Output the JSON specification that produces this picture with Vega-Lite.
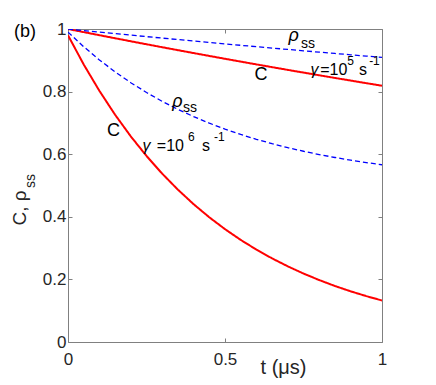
{
  "$schema": "https://vega.github.io/schema/vega-lite/v6.json",
  "width": 314,
  "height": 313,
  "autosize": "none",
  "padding": {"left": 68, "top": 29, "right": 54, "bottom": 43},
  "background": "white",
  "config": {
    "view": {"stroke": null},
    "axis": {
      "grid": false,
      "domainColor": "#808080",
      "tickColor": "#808080",
      "labelColor": "#262626",
      "titleColor": "#262626",
      "labelFont": "Liberation Sans",
      "titleFont": "Liberation Sans",
      "labelFontSize": 17,
      "titleFontSize": 19,
      "titleFontWeight": "normal",
      "tickSize": -4,
      "labelPadding": 6,
      "format": "~g"
    },
    "text": {"font": "Liberation Sans", "color": "#000000"}
  },
  "datasets": {
    "curves": [
      {"t": 0, "value": 1, "quantity": "C", "gamma": "1e5"},
      {"t": 0.05, "value": 0.99005, "quantity": "C", "gamma": "1e5"},
      {"t": 0.1, "value": 0.9802, "quantity": "C", "gamma": "1e5"},
      {"t": 0.15, "value": 0.97045, "quantity": "C", "gamma": "1e5"},
      {"t": 0.2, "value": 0.96079, "quantity": "C", "gamma": "1e5"},
      {"t": 0.25, "value": 0.95123, "quantity": "C", "gamma": "1e5"},
      {"t": 0.3, "value": 0.94176, "quantity": "C", "gamma": "1e5"},
      {"t": 0.35, "value": 0.93239, "quantity": "C", "gamma": "1e5"},
      {"t": 0.4, "value": 0.92312, "quantity": "C", "gamma": "1e5"},
      {"t": 0.45, "value": 0.91393, "quantity": "C", "gamma": "1e5"},
      {"t": 0.5, "value": 0.90484, "quantity": "C", "gamma": "1e5"},
      {"t": 0.55, "value": 0.89583, "quantity": "C", "gamma": "1e5"},
      {"t": 0.6, "value": 0.88692, "quantity": "C", "gamma": "1e5"},
      {"t": 0.65, "value": 0.8781, "quantity": "C", "gamma": "1e5"},
      {"t": 0.7, "value": 0.86936, "quantity": "C", "gamma": "1e5"},
      {"t": 0.75, "value": 0.86071, "quantity": "C", "gamma": "1e5"},
      {"t": 0.8, "value": 0.85214, "quantity": "C", "gamma": "1e5"},
      {"t": 0.85, "value": 0.84366, "quantity": "C", "gamma": "1e5"},
      {"t": 0.9, "value": 0.83527, "quantity": "C", "gamma": "1e5"},
      {"t": 0.95, "value": 0.82696, "quantity": "C", "gamma": "1e5"},
      {"t": 1, "value": 0.81873, "quantity": "C", "gamma": "1e5"},
      {"t": 0, "value": 1, "quantity": "rho", "gamma": "1e5"},
      {"t": 0.05, "value": 0.99503, "quantity": "rho", "gamma": "1e5"},
      {"t": 0.1, "value": 0.9901, "quantity": "rho", "gamma": "1e5"},
      {"t": 0.15, "value": 0.98522, "quantity": "rho", "gamma": "1e5"},
      {"t": 0.2, "value": 0.9804, "quantity": "rho", "gamma": "1e5"},
      {"t": 0.25, "value": 0.97561, "quantity": "rho", "gamma": "1e5"},
      {"t": 0.3, "value": 0.97088, "quantity": "rho", "gamma": "1e5"},
      {"t": 0.35, "value": 0.9662, "quantity": "rho", "gamma": "1e5"},
      {"t": 0.4, "value": 0.96156, "quantity": "rho", "gamma": "1e5"},
      {"t": 0.45, "value": 0.95697, "quantity": "rho", "gamma": "1e5"},
      {"t": 0.5, "value": 0.95242, "quantity": "rho", "gamma": "1e5"},
      {"t": 0.55, "value": 0.94792, "quantity": "rho", "gamma": "1e5"},
      {"t": 0.6, "value": 0.94346, "quantity": "rho", "gamma": "1e5"},
      {"t": 0.65, "value": 0.93905, "quantity": "rho", "gamma": "1e5"},
      {"t": 0.7, "value": 0.93468, "quantity": "rho", "gamma": "1e5"},
      {"t": 0.75, "value": 0.93035, "quantity": "rho", "gamma": "1e5"},
      {"t": 0.8, "value": 0.92607, "quantity": "rho", "gamma": "1e5"},
      {"t": 0.85, "value": 0.92183, "quantity": "rho", "gamma": "1e5"},
      {"t": 0.9, "value": 0.91763, "quantity": "rho", "gamma": "1e5"},
      {"t": 0.95, "value": 0.91348, "quantity": "rho", "gamma": "1e5"},
      {"t": 1, "value": 0.90937, "quantity": "rho", "gamma": "1e5"},
      {"t": 0, "value": 0.98, "quantity": "C", "gamma": "1e6"},
      {"t": 0.05, "value": 0.8867, "quantity": "C", "gamma": "1e6"},
      {"t": 0.1, "value": 0.8024, "quantity": "C", "gamma": "1e6"},
      {"t": 0.15, "value": 0.726, "quantity": "C", "gamma": "1e6"},
      {"t": 0.2, "value": 0.6569, "quantity": "C", "gamma": "1e6"},
      {"t": 0.25, "value": 0.5944, "quantity": "C", "gamma": "1e6"},
      {"t": 0.3, "value": 0.5378, "quantity": "C", "gamma": "1e6"},
      {"t": 0.35, "value": 0.4867, "quantity": "C", "gamma": "1e6"},
      {"t": 0.4, "value": 0.4403, "quantity": "C", "gamma": "1e6"},
      {"t": 0.45, "value": 0.3984, "quantity": "C", "gamma": "1e6"},
      {"t": 0.5, "value": 0.3605, "quantity": "C", "gamma": "1e6"},
      {"t": 0.55, "value": 0.3262, "quantity": "C", "gamma": "1e6"},
      {"t": 0.6, "value": 0.2952, "quantity": "C", "gamma": "1e6"},
      {"t": 0.65, "value": 0.2671, "quantity": "C", "gamma": "1e6"},
      {"t": 0.7, "value": 0.2417, "quantity": "C", "gamma": "1e6"},
      {"t": 0.75, "value": 0.2187, "quantity": "C", "gamma": "1e6"},
      {"t": 0.8, "value": 0.1979, "quantity": "C", "gamma": "1e6"},
      {"t": 0.85, "value": 0.179, "quantity": "C", "gamma": "1e6"},
      {"t": 0.9, "value": 0.162, "quantity": "C", "gamma": "1e6"},
      {"t": 0.95, "value": 0.1466, "quantity": "C", "gamma": "1e6"},
      {"t": 1, "value": 0.1326, "quantity": "C", "gamma": "1e6"},
      {"t": 0, "value": 0.99, "quantity": "rho", "gamma": "1e6"},
      {"t": 0.05, "value": 0.9434, "quantity": "rho", "gamma": "1e6"},
      {"t": 0.1, "value": 0.9012, "quantity": "rho", "gamma": "1e6"},
      {"t": 0.15, "value": 0.863, "quantity": "rho", "gamma": "1e6"},
      {"t": 0.2, "value": 0.8285, "quantity": "rho", "gamma": "1e6"},
      {"t": 0.25, "value": 0.7972, "quantity": "rho", "gamma": "1e6"},
      {"t": 0.3, "value": 0.7689, "quantity": "rho", "gamma": "1e6"},
      {"t": 0.35, "value": 0.7434, "quantity": "rho", "gamma": "1e6"},
      {"t": 0.4, "value": 0.7202, "quantity": "rho", "gamma": "1e6"},
      {"t": 0.45, "value": 0.6992, "quantity": "rho", "gamma": "1e6"},
      {"t": 0.5, "value": 0.6803, "quantity": "rho", "gamma": "1e6"},
      {"t": 0.55, "value": 0.6631, "quantity": "rho", "gamma": "1e6"},
      {"t": 0.6, "value": 0.6476, "quantity": "rho", "gamma": "1e6"},
      {"t": 0.65, "value": 0.6336, "quantity": "rho", "gamma": "1e6"},
      {"t": 0.7, "value": 0.6209, "quantity": "rho", "gamma": "1e6"},
      {"t": 0.75, "value": 0.6094, "quantity": "rho", "gamma": "1e6"},
      {"t": 0.8, "value": 0.599, "quantity": "rho", "gamma": "1e6"},
      {"t": 0.85, "value": 0.5895, "quantity": "rho", "gamma": "1e6"},
      {"t": 0.9, "value": 0.581, "quantity": "rho", "gamma": "1e6"},
      {"t": 0.95, "value": 0.5733, "quantity": "rho", "gamma": "1e6"},
      {"t": 1, "value": 0.5663, "quantity": "rho", "gamma": "1e6"}
    ],
    "bigText": [
      {"t": 0.594, "v": 0.837, "text": "C"},
      {"t": 0.124, "v": 0.658, "text": "C"},
      {"t": -0.172, "v": 0.974, "text": "(b)"}
    ],
    "rhoText": [
      {"t": 0.702, "v": 0.962, "text": "ρ"},
      {"t": 0.332, "v": 0.751, "text": "ρ"}
    ],
    "subText": [
      {"t": 0.742, "v": 0.938, "text": "ss"},
      {"t": 0.366, "v": 0.735, "text": "ss"}
    ],
    "gammaText": [
      {"t": 0.772, "v": 0.853, "text": "γ"},
      {"t": 0.237, "v": 0.61, "text": "γ"}
    ],
    "labelText": [
      {"t": 0.803, "v": 0.853, "text": "=10"},
      {"t": 0.927, "v": 0.853, "text": "s"},
      {"t": 0.283, "v": 0.61, "text": "=10"},
      {"t": 0.427, "v": 0.61, "text": "s"}
    ],
    "supText": [
      {"t": 0.889, "v": 0.885, "text": "5"},
      {"t": 0.959, "v": 0.885, "text": "-1"},
      {"t": 0.382, "v": 0.642, "text": "6"},
      {"t": 0.465, "v": 0.642, "text": "-1"}
    ],
    "yTitleSub": [
      {"t": -0.105, "v": 0.492, "text": "ss"}
    ]
  },
  "resolve": {"axis": {"x": "independent", "y": "independent"}},
  "layer": [
    {
      "data": {"name": "curves"},
      "mark": {"type": "line", "clip": true},
      "encoding": {
        "x": {
          "field": "t", "type": "quantitative",
          "scale": {"domain": [0, 1], "nice": false},
          "axis": {"values": [0, 0.5, 1], "title": "t (μs)", "titleFontSize": 20, "titleX": 215, "titleY": 31, "titleAlign": "center", "titleBaseline": "alphabetic", "labelPadding": 13, "labelFlush": false}
        },
        "y": {
          "field": "value", "type": "quantitative",
          "scale": {"domain": [0, 1], "nice": false},
          "axis": {"values": [0, 0.2, 0.4, 0.6, 0.8, 1], "title": "C, ρ", "titleAngle": 270, "titleAlign": "left", "titleBaseline": "alphabetic", "titleX": -43, "titleY": 196, "labelPadding": 6, "labelFlush": false}
        },
        "detail": {"field": "gamma"},
        "color": {"field": "quantity", "type": "nominal", "scale": {"domain": ["C", "rho"], "range": ["#ff0000", "#0000ff"]}, "legend": null},
        "strokeDash": {"field": "quantity", "type": "nominal", "scale": {"domain": ["C", "rho"], "range": [[1, 0], [5, 3]]}, "legend": null},
        "strokeWidth": {"field": "quantity", "type": "nominal", "scale": {"domain": ["C", "rho"], "range": [2, 1.3]}, "legend": null}
      }
    },
    {
      "data": {"name": "bigText"},
      "mark": {"type": "text", "align": "left", "baseline": "alphabetic", "fontSize": 18},
      "encoding": {
        "x": {"field": "t", "type": "quantitative", "scale": {"domain": [0, 1], "nice": false},
          "axis": {"orient": "top", "values": [0, 0.5, 1], "labels": false, "title": null}},
        "y": {"field": "v", "type": "quantitative", "scale": {"domain": [0, 1], "nice": false},
          "axis": {"orient": "right", "values": [0, 0.2, 0.4, 0.6, 0.8, 1], "labels": false, "title": null}},
        "text": {"field": "text"}
      }
    },
    {
      "data": {"name": "rhoText"},
      "mark": {"type": "text", "align": "left", "baseline": "alphabetic", "fontSize": 18, "fontStyle": "italic"},
      "encoding": {
        "x": {"field": "t", "type": "quantitative", "axis": null},
        "y": {"field": "v", "type": "quantitative", "axis": null},
        "text": {"field": "text"}
      }
    },
    {
      "data": {"name": "subText"},
      "mark": {"type": "text", "align": "left", "baseline": "alphabetic", "fontSize": 14},
      "encoding": {
        "x": {"field": "t", "type": "quantitative", "axis": null},
        "y": {"field": "v", "type": "quantitative", "axis": null},
        "text": {"field": "text"}
      }
    },
    {
      "data": {"name": "gammaText"},
      "mark": {"type": "text", "align": "left", "baseline": "alphabetic", "fontSize": 16, "fontStyle": "italic"},
      "encoding": {
        "x": {"field": "t", "type": "quantitative", "axis": null},
        "y": {"field": "v", "type": "quantitative", "axis": null},
        "text": {"field": "text"}
      }
    },
    {
      "data": {"name": "labelText"},
      "mark": {"type": "text", "align": "left", "baseline": "alphabetic", "fontSize": 16},
      "encoding": {
        "x": {"field": "t", "type": "quantitative", "axis": null},
        "y": {"field": "v", "type": "quantitative", "axis": null},
        "text": {"field": "text"}
      }
    },
    {
      "data": {"name": "supText"},
      "mark": {"type": "text", "align": "left", "baseline": "alphabetic", "fontSize": 12},
      "encoding": {
        "x": {"field": "t", "type": "quantitative", "axis": null},
        "y": {"field": "v", "type": "quantitative", "axis": null},
        "text": {"field": "text"}
      }
    },
    {
      "data": {"name": "yTitleSub"},
      "mark": {"type": "text", "align": "left", "baseline": "alphabetic", "fontSize": 14, "angle": 270, "color": "#262626"},
      "encoding": {
        "x": {"field": "t", "type": "quantitative", "axis": null},
        "y": {"field": "v", "type": "quantitative", "axis": null},
        "text": {"field": "text"}
      }
    }
  ]
}
